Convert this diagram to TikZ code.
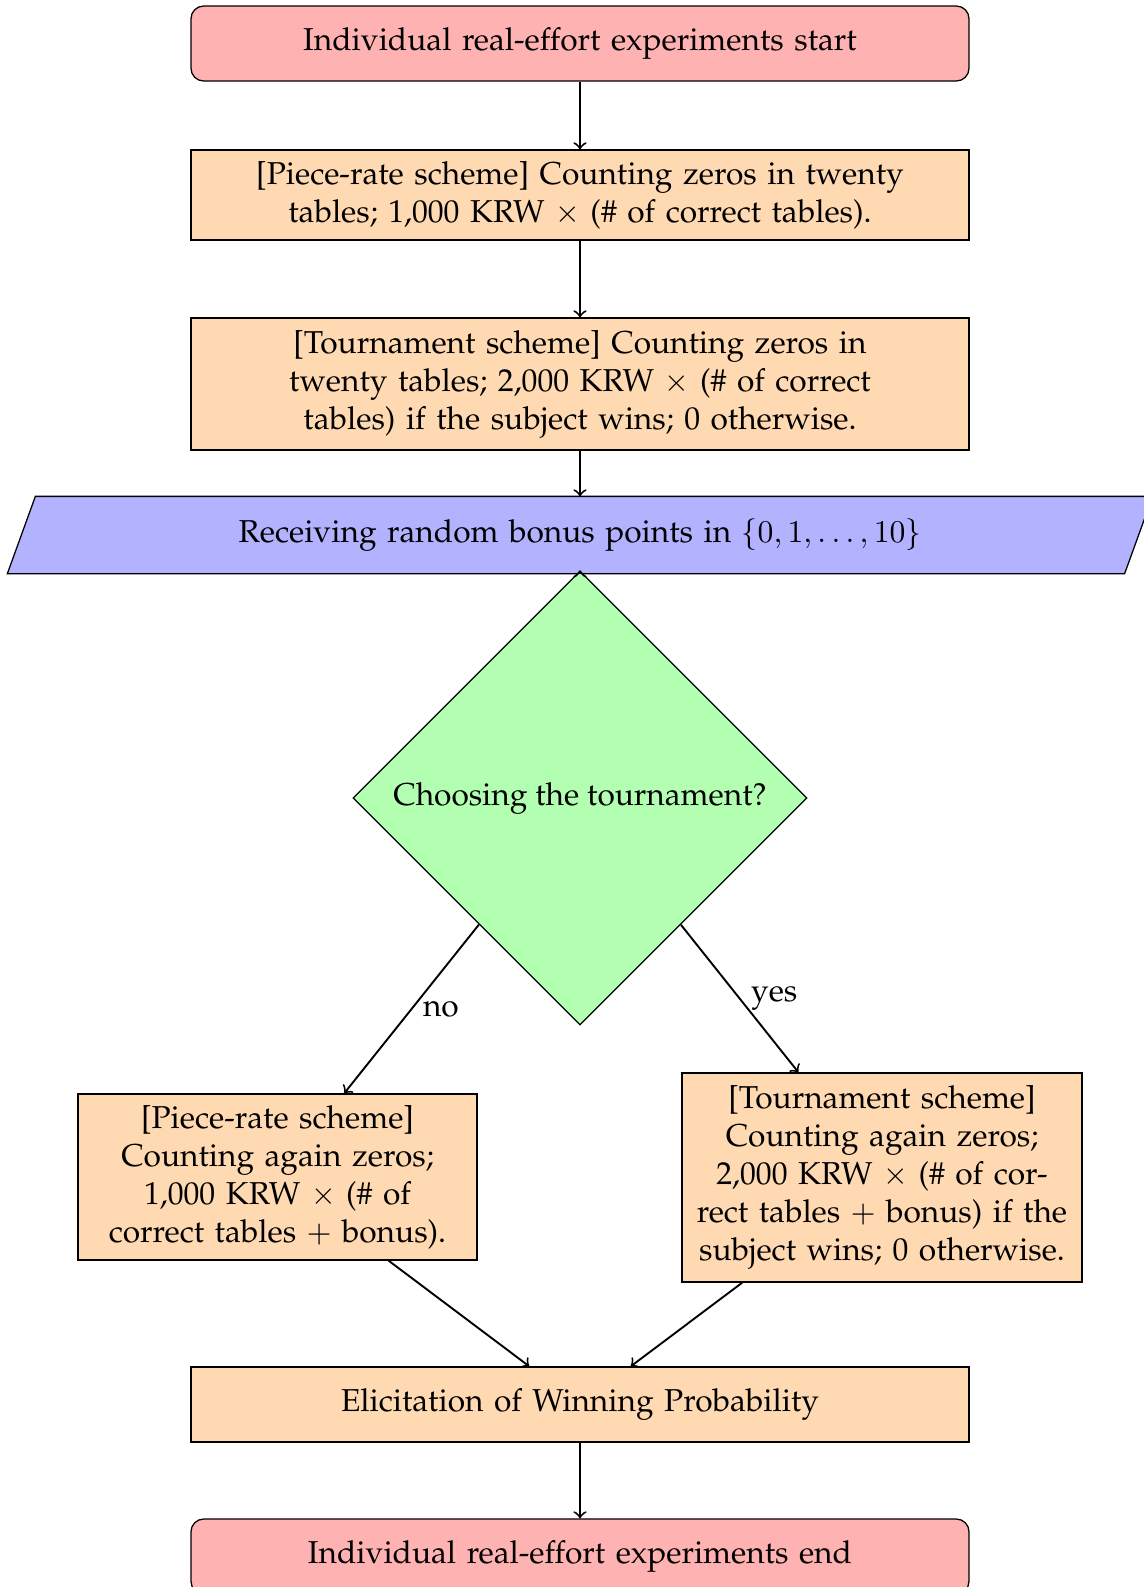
\documentclass[tikz,border=0pt]{standalone}
\usepackage[T1]{fontenc}
\usepackage{palatino}
\usetikzlibrary{shapes.geometric,arrows}
\pgfdeclarelayer{bg}
\pgfsetlayers{bg,main}
\tikzset{
  startstop/.style={rectangle, rounded corners=4pt, text width=230pt, minimum width=778*0.3158pt, minimum height=75*0.3158pt, align=center, draw=black, fill=red!30},
  process/.style={rectangle, align=center, draw=black, fill=orange!30},
  wide/.style={text width=230pt, minimum width=778*0.3158pt},
  narrow/.style={text width=121pt, inner xsep=2pt},
  iobox/.style={rectangle, text width=300pt, minimum width=1116*0.3158pt, minimum height=76*0.3158pt, inner sep=0pt, align=center},
  ioshape/.style={draw=black, fill=blue!30},
  decision/.style={diamond, aspect=1, minimum width=454*0.3158pt, minimum height=454*0.3158pt, inner sep=0pt, align=center, draw=black, fill=green!30},
  arrow/.style={->, >=to, line width=0.6pt}
}
\begin{document}
\begin{tikzpicture}[x=0.3158pt,y=-0.3158pt]
\useasboundingbox (0,0) rectangle (1143,1587);
\node[startstop] (start) at (580,43.5) {Individual real-effort experiments start};
\node[process, wide, minimum height=90*0.3158pt] (pro1) at (580,195)
  {[Piece-rate scheme] Counting zeros in twenty\\ tables; 1,000 KRW $\times$ (\# of correct tables).};
\node[process, wide, minimum height=132*0.3158pt] (pro2) at (580,384)
  {[Tournament scheme] Counting zeros in\\ twenty tables; 2,000 KRW $\times$ (\# of correct\\ tables) if the subject wins; 0 otherwise.};
\node[iobox] (bonus) at (580,535) {Receiving random bonus points in $\{0,1,\ldots,10\}$};
\begin{pgfonlayer}{bg}
\draw[ioshape] ([xshift=14*0.3158pt]bonus.north west) -- ([xshift=14*0.3158pt]bonus.north east)
  -- ([xshift=-14*0.3158pt]bonus.south east) -- ([xshift=-14*0.3158pt]bonus.south west) -- cycle;
\end{pgfonlayer}
\node[decision] (dec) at (580,798) {Choosing the tournament?};
\node[process, narrow, minimum width=399*0.3158pt, minimum height=166*0.3158pt] (pro3a) at (277.5,1177)
  {[Piece-rate scheme]\\ Counting again zeros;\\ 1,000 KRW $\times$ (\# of\\ correct tables $+$ bonus).};
\node[process, narrow, minimum width=400*0.3158pt, minimum height=209*0.3158pt] (pro3b) at (882,1177.5)
  {[Tournament scheme]\\ Counting again zeros;\\ 2,000 KRW $\times$ (\# of cor-\\ rect tables $+$ bonus) if the\\ subject wins; 0 otherwise.};
\node[process, wide, minimum height=75*0.3158pt] (elic) at (580,1404.5) {Elicitation of Winning Probability};
\node[startstop] (stop) at (580,1556.5) {Individual real-effort experiments end};
\draw[arrow] (start) -- (pro1);
\draw[arrow] (pro1) -- (pro2);
\draw[arrow] (pro2) -- (bonus);
\draw[arrow] (bonus) -- (dec);
\draw[arrow] (dec) -- node[midway, right] {no} (pro3a);
\draw[arrow] (dec) -- node[midway, right] {yes} (pro3b);
\draw[arrow] (pro3a) -- (elic);
\draw[arrow] (pro3b) -- (elic);
\draw[arrow] (elic) -- (stop);
\end{tikzpicture}
\end{document}
